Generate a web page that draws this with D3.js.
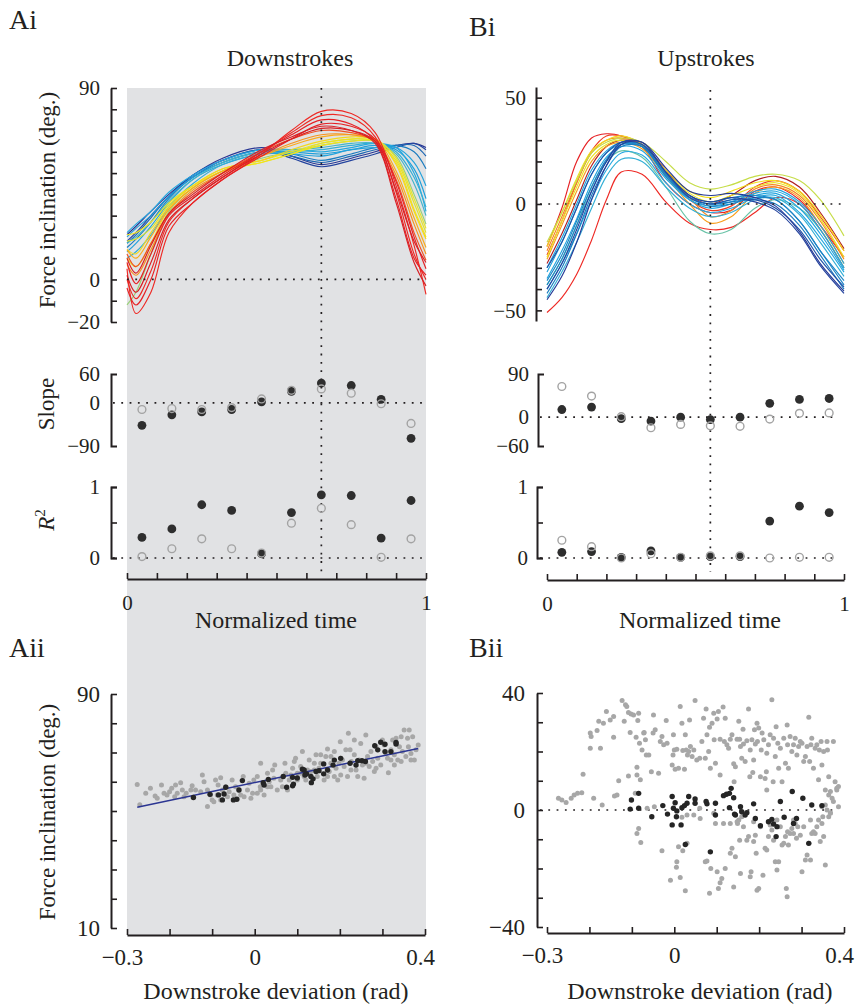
<!DOCTYPE html>
<html><head><meta charset="utf-8">
<script src="https://cdn.jsdelivr.net/npm/d3@7"></script>
<style>
body{margin:0;background:#fff;}
svg text{font-family:"Liberation Serif","DejaVu Serif","Times New Roman",Times,serif;fill:#231f20;}
</style></head><body>
<svg id="fig" width="856" height="1007"></svg>
<script>
// ---------- DATA ----------
const jetStops = ["#2a2f8f","#1f4ea5","#1b75bb","#1c9ad6","#27aae1","#6cc4a4","#c4dc4a","#f2e61a","#fbb31a","#f47a20","#ed2024","#b01e23"];

// Downstrokes: knot times and curves (deg)
const downKnots = [0, 0.03, 0.08, 0.14, 0.22, 0.32, 0.45, 0.55, 0.65, 0.75, 0.83, 0.9, 0.96, 1];
const downColorIdx = [0.02,0.06,0.15,0.2,0.3,0.32,0.35,0.38,0.4,0.5,0.6,0.62,0.64,0.66,0.74,0.78,0.86,0.9,0.9,0.92,0.92,0.94,0.94];
const downCurves = [
  [21,25,32,40,49,57,62,58,54,57,60,63,64,62],
  [18,22,30,39,49,56,61,57,53,56,59,62,64,61],
  [17,21,29,39,48,56,61,58,55,58,61,63,63,58],
  [15,19,27,38,48,55,60,59,56,59,62,63,60,52],
  [20,24,30,39,48,55,60,60,59,61,63,61,52,38],
  [13,17,25,36,47,54,59,59,58,61,62,62,55,44],
  [22,26,32,41,49,56,61,61,60,62,64,62,50,32],
  [10,13,21,34,45,54,59,60,61,63,64,60,48,34],
  [17,20,27,37,47,55,60,61,62,64,64,59,45,30],
  [-12,-6,12,32,43,51,57,60,63,65,65,58,40,26],
  [18,19,24,35,44,52,56,60,64,66,65,56,36,22],
  [10,6,17,33,43,51,55,59,64,66,66,57,38,24],
  [21,22,27,36,44,51,55,59,63,65,65,55,33,20],
  [14,12,22,34,44,52,56,61,65,67,66,54,32,19],
  [14,10,20,33,43,51,58,63,67,68,66,51,29,15],
  [7,2,14,31,42,50,58,64,68,68,65,49,26,12],
  [12,6,17,31,41,50,60,66,70,69,65,47,22,9],
  [5,-16,-6,22,36,47,59,70,79,78,69,44,16,-7],
  [0,-9,4,27,38,48,60,69,77,76,67,41,12,0],
  [8,-2,12,30,39,49,60,68,75,73,65,38,10,2],
  [-4,-12,0,25,36,47,58,66,73,72,66,46,20,5],
  [10,3,16,31,40,50,61,67,72,70,64,36,8,-3],
  [2,-6,8,28,38,48,59,66,71,70,65,42,18,8]
];

// Upstrokes
const upKnots = [0, 0.05, 0.1, 0.15, 0.2, 0.25, 0.32, 0.4, 0.48, 0.55, 0.62, 0.7, 0.77, 0.85, 0.92, 1];
const upColorIdx = [1.0,0.92,0.9,0.88,0.8,0.76,0.65,0.62,0.55,0.45,0.38,0.36,0.34,0.33,0.33,0.22,0.22,0.2,0.1,0.06,0.03];
const upCurves = [
  [-28,-14,2,18,27,30,28,16,4,0,4,11,13,8,-4,-21],
  [-20,-2,20,31,33,32,27,10,0,-4,-3,6,8,2,-10,-25],
  [-51,-44,-33,-17,2,15,14,1,-9,-12,-11,-4,3,0,-12,-30],
  [-24,-8,10,25,32,32,28,14,2,-3,-1,8,11,6,-6,-22],
  [-22,-6,10,24,30,31,28,15,3,-6,-3,7,9,4,-8,-26],
  [-26,-10,6,20,27,29,26,13,0,-9,-6,5,8,3,-10,-28],
  [-20,-4,12,25,30,32,28,16,6,3,6,10,11,6,-5,-22],
  [-25,-8,8,22,28,30,27,15,5,1,4,8,10,5,-7,-25],
  [-18,-4,11,24,29,31,29,20,10,7,9,13,14,11,2,-15],
  [-38,-26,-10,8,20,25,22,8,-8,-14,-12,-2,2,-2,-12,-30],
  [-44,-32,-18,-2,13,21,20,8,-2,-6,-4,2,3,-5,-18,-34],
  [-40,-28,-14,2,16,24,23,10,0,-4,-2,3,4,-4,-16,-32],
  [-35,-22,-7,10,22,27,25,12,2,-1,1,5,6,0,-12,-30],
  [-32,-18,-2,14,24,28,27,14,3,0,2,6,7,1,-10,-28],
  [-30,-16,0,16,25,29,27,13,2,-2,0,4,5,-2,-14,-31],
  [-36,-24,-8,8,21,28,27,13,3,-1,0,3,2,-8,-22,-38],
  [-38,-26,-10,6,20,28,28,15,4,1,3,4,2,-8,-22,-36],
  [-42,-30,-14,4,18,27,27,14,3,0,1,2,0,-10,-24,-40],
  [-30,-18,-2,14,24,29,28,15,3,0,2,2,-2,-12,-26,-39],
  [-40,-28,-12,6,20,29,29,15,4,1,3,1,-3,-14,-29,-42],
  [-45,-34,-18,2,18,28,29,17,6,4,5,3,-1,-13,-28,-41]
];

const sampleTimes = [0.05,0.15,0.25,0.35,0.45,0.55,0.65,0.75,0.85,0.95];
const downMarkTime = 0.65, upMarkTime = 0.55;
const downSlopeFilled = [-47,-25,-19,-14,2,24,41,36,7,-74];
const downSlopeOpen   = [-14,-12,-14,-10,8,26,29,20,-2,-43];
const downR2Filled = [0.29,0.41,0.75,0.67,0.06,0.64,0.89,0.88,0.28,0.81];
const downR2Open   = [0.02,0.13,0.27,0.13,0.07,0.49,0.70,0.47,0.01,0.27];
const upSlopeFilled = [16,21,-3,-8,0,-5,0,29,37,39];
const upSlopeOpen   = [64,44,1,-22,-15,-18,-19,-4,8,9];
const upR2Filled = [0.08,0.09,0.01,0.10,0.01,0.02,0.02,0.52,0.73,0.64];
const upR2Open   = [0.25,0.16,0.0,0.06,0.01,0.03,0.03,0.0,0.01,0.01];

// Aii scatter: [deviation (rad), force inclination (deg)]
const aiiGray = [[-0.276,59.1],[-0.256,56.1],[-0.245,57.8],[-0.234,55.1],[-0.219,58.9],[-0.213,56.1],[-0.2,56.6],[-0.195,57.8],[-0.186,58.9],[-0.174,59.7],[-0.188,54.9],[-0.17,57.2],[-0.161,56.1],[-0.147,58.6],[-0.139,57.2],[-0.123,62.3],[-0.119,60],[-0.111,57.2],[-0.111,51.5],[-0.104,55.5],[-0.092,60.6],[-0.086,58.9],[-0.08,61.4],[-0.076,57.2],[-0.068,58.3],[-0.06,56.6],[-0.053,60.6],[-0.045,58.3],[-0.033,55.5],[-0.027,61.8],[-0.017,57.2],[-0.013,59.5],[-0.009,54.4],[-0.002,60.6],[0.006,61.8],[0.013,58.3],[0.014,66.3],[0.022,55.5],[0.03,62.9],[0.034,60],[0.042,64],[0.045,61.2],[0.047,65.7],[0.053,57.2],[0.061,60.6],[0.071,66.3],[0.073,62.9],[0.081,60.6],[0.089,64.6],[0.093,66.9],[0.096,68],[0.1,62.9],[0.108,65.2],[0.112,70.3],[0.116,61.8],[0.12,60.6],[0.128,67.4],[0.132,63.5],[0.14,66.3],[0.144,69.2],[0.147,61.8],[0.151,64.6],[0.155,66.3],[0.163,60.6],[0.167,68.6],[0.171,71.2],[0.175,63.5],[0.179,66.3],[0.187,61.8],[0.191,64.6],[0.195,60.6],[0.198,66.3],[0.201,73.7],[0.202,68],[0.21,65.2],[0.218,61.8],[0.22,76.6],[0.224,70.9],[0.227,66.9],[0.234,69.2],[0.238,64],[0.242,61.8],[0.249,73.1],[0.253,65.7],[0.257,61.2],[0.261,76],[0.265,68.6],[0.269,65.2],[0.273,70.3],[0.277,66.9],[0.281,63.5],[0.285,72],[0.289,68],[0.296,65.7],[0.3,74.3],[0.304,72.6],[0.308,69.7],[0.312,68],[0.314,63.1],[0.32,70.9],[0.324,74.3],[0.328,69.2],[0.332,74.9],[0.336,67.4],[0.34,72],[0.344,75.4],[0.347,70.3],[0.351,77.7],[0.355,68.6],[0.359,74.9],[0.361,72],[0.363,77.7],[0.367,69.7],[0.371,75.4],[0.375,67.4],[0.379,70.9],[0.384,72.6],[0.206,67.4],[0.214,70.9],[0.234,74.3],[0.187,70.3],[0.179,68.6],[0.155,69.2],[0.14,64],[0.108,62.9],[0.085,62.3],[0.065,58.3],[0.038,58.3],[0.006,56.1],[-0.005,56.1],[-0.037,57.2],[-0.049,55.5],[-0.088,55.5],[-0.1,53.8],[-0.127,56.6],[-0.15,57.2],[-0.166,54.9],[-0.182,56.1],[-0.206,55.5],[-0.229,54.4],[-0.27,52.1],[0.328,65.7],[0.344,66.9],[0.367,67.4],[0.32,67.4],[0.285,64.6],[0.261,66.3],[0.245,67.4],[0.226,64],[0.202,62.3],[0.171,61.8],[0.124,64],[0.1,60.6],[0.077,57.2],[0.03,58.3],[0.014,57.2],[-0.025,54.9],[-0.064,54.9],[-0.08,53.8],[-0.096,53.2]];
const aiiDark = [[-0.144,54.6],[-0.105,55.7],[-0.085,55.5],[-0.076,53.8],[-0.072,55.8],[-0.068,58.1],[-0.05,53.8],[-0.042,54],[-0.037,57.2],[-0.029,60.4],[0.02,59.7],[0.022,58.9],[0.032,60.8],[0.067,61.8],[0.075,58.1],[0.089,58.6],[0.089,61.5],[0.1,61.3],[0.112,64.3],[0.118,62.3],[0.122,62.7],[0.133,59.7],[0.137,61],[0.144,63.5],[0.151,63.8],[0.162,66.1],[0.162,62.7],[0.171,64],[0.187,67.4],[0.202,68],[0.224,66.3],[0.238,65.7],[0.242,67.2],[0.252,67.2],[0.26,66.9],[0.282,72.3],[0.289,70.9],[0.296,73.5],[0.306,72.8],[0.306,70.3],[0.32,70.3],[0.332,73.4],[0.332,72.9],[0.116,64],[0.184,65.7],[0.132,61.8],[0.091,59.2]];
const aiiFit = [[-0.276,51.3],[0.384,71.4]];

// Bii scatter
const biiGray = [[-0.273,4.0],[-0.265,3.4],[-0.255,2.6],[-0.243,4.0],[-0.236,5.1],[-0.228,5.7],[-0.218,5.9],[-0.215,12.2],[-0.198,26.3],[-0.196,25.1],[-0.198,21.1],[-0.19,4.0],[-0.182,27.2],[-0.178,30.3],[-0.174,21.1],[-0.17,1.7],[-0.167,29.7],[-0.16,33.7],[-0.151,30.8],[-0.143,32.0],[-0.143,24.9],[-0.141,4.8],[-0.135,5.1],[-0.131,10.0],[-0.123,37.4],[-0.118,30.3],[-0.115,36.0],[-0.112,35.4],[-0.108,33.3],[-0.108,11.6],[-0.104,26.5],[-0.102,32.8],[-0.096,32.5],[-0.092,5.7],[-0.09,24.9],[-0.088,12.0],[-0.086,30.6],[-0.084,33.1],[-0.088,14.6],[-0.082,22.8],[-0.08,10.3],[-0.076,20.5],[-0.072,26.3],[-0.068,24.0],[-0.064,0.6],[-0.071,26.5],[-0.066,18.8],[-0.06,18.8],[-0.054,13.1],[-0.05,26.3],[-0.049,32.5],[-0.045,27.4],[-0.037,12.6],[-0.033,23.4],[-0.029,25.1],[-0.025,22.3],[-0.019,30.6],[-0.017,22.8],[-0.005,15.4],[-0.003,18.8],[-0.002,25.7],[0,20.5],[0.002,13.9],[0.006,20.8],[0.01,14.3],[0.014,35.4],[0.018,29.7],[0.02,20.3],[0.024,13.9],[0.026,25.7],[0.028,20.5],[0.031,18.8],[0.034,20.0],[0.036,30.8],[0.038,21.7],[0.042,18.3],[0.046,20.5],[0.049,37.4],[0.053,17.1],[0.06,17.7],[0.065,23.4],[0.069,31.4],[0.073,17.7],[0.075,34.5],[0.077,25.7],[0.081,20.0],[0.083,28.3],[0.085,14.3],[0.089,29.7],[0.093,33.1],[0.094,24.0],[0.097,16.0],[0.101,31.1],[0.104,33.7],[0.108,24.2],[0.108,12.0],[0.115,35.2],[0.118,23.4],[0.12,31.4],[0.124,22.3],[0.128,21.1],[0.132,24.2],[0.136,25.7],[0.14,15.8],[0.141,9.7],[0.144,14.8],[0.148,24.2],[0.152,30.3],[0.154,24.2],[0.156,21.7],[0.159,17.7],[0.162,27.6],[0.163,22.6],[0.167,16.6],[0.171,23.7],[0.175,34.5],[0.178,11.4],[0.179,20.5],[0.183,24.0],[0.185,12.8],[0.187,17.1],[0.189,27.4],[0.191,22.6],[0.195,29.7],[0.196,23.4],[0.199,28.0],[0.203,11.4],[0.205,20.5],[0.207,26.3],[0.211,24.0],[0.214,10.8],[0.217,13.1],[0.218,19.4],[0.218,6.8],[0.222,22.3],[0.226,25.7],[0.23,37.7],[0.233,9.7],[0.234,24.5],[0.238,18.3],[0.24,28.5],[0.244,22.8],[0.246,14.3],[0.25,21.1],[0.254,9.7],[0.258,24.5],[0.262,16.0],[0.266,29.1],[0.267,22.3],[0.269,14.3],[0.273,25.1],[0.277,20.0],[0.281,22.3],[0.285,24.5],[0.289,18.8],[0.293,21.7],[0.297,23.4],[0.301,22.8],[0.305,16.6],[0.309,18.3],[0.313,21.7],[0.317,31.7],[0.319,16.6],[0.322,22.3],[0.324,24.5],[0.328,14.3],[0.332,21.1],[0.336,22.3],[0.34,10.3],[0.342,20.5],[0.346,23.4],[0.348,15.4],[0.352,20.0],[0.356,6.8],[0.36,23.4],[0.361,20.5],[0.364,11.4],[0.368,6.3],[0.372,4.0],[0.375,23.4],[0.379,9.7],[0.383,6.8],[0.387,8.0],[0.364,5.1],[0.356,1.7],[0.348,1.1],[0.368,-0.9],
[-0.088,-8.0],[-0.084,-6.3],[-0.079,-11.1],[-0.047,1.1],[-0.029,-13.9],[-0.009,-24.0],[0.005,-19.6],[0.006,-17.7],[0.01,-12.6],[0.014,-23.1],[0.018,-2.5],[0.02,-13.9],[0.026,-27.6],[0.03,-11.4],[0.046,-1.7],[0.06,0.6],[0.073,-17.7],[0.077,-17.4],[0.083,-28.5],[0.086,-20.0],[0.093,-1.1],[0.097,-4.6],[0.101,-21.1],[0.104,-26.8],[0.108,-24.9],[0.112,-23.4],[0.116,-4.6],[0.12,-20.0],[0.132,-14.8],[0.136,-13.1],[0.14,-26.3],[0.144,-16.0],[0.148,-4.0],[0.149,-4.6],[0.152,-3.4],[0.154,-10.3],[0.156,-21.7],[0.159,-2.3],[0.163,-5.7],[0.171,-10.3],[0.175,-9.1],[0.179,-22.8],[0.181,-21.1],[0.187,-10.8],[0.191,-8.6],[0.193,-14.8],[0.195,-27.4],[0.199,-26.8],[0.203,-5.7],[0.209,-22.3],[0.214,-13.1],[0.218,-13.7],[0.222,-9.1],[0.226,-5.1],[0.23,-6.8],[0.234,-10.3],[0.238,-17.7],[0.242,-20.5],[0.246,-17.7],[0.25,-5.7],[0.254,-12.0],[0.258,-11.4],[0.262,-9.1],[0.264,-26.8],[0.266,-29.7],[0.267,-7.4],[0.269,-12.0],[0.273,-8.0],[0.277,-6.3],[0.281,-8.0],[0.285,-4.6],[0.288,-9.7],[0.291,-5.7],[0.297,-8.6],[0.301,-21.1],[0.305,-5.7],[0.309,-17.1],[0.313,-15.4],[0.317,-11.4],[0.321,-17.1],[0.324,-8.0],[0.328,-7.4],[0.332,-8.0],[0.336,-5.7],[0.34,-3.4],[0.344,-10.8],[0.348,-4.6],[0.35,-2.3],[0.352,-9.1],[0.356,-18.8],[0.36,0],[0.364,-2.3],[0.368,-1.1],[0.375,2.9],[0.383,7.4],[0.387,1.1],[0.061,-2.9],[0.03,-1.7],[0.132,-4.6],[0.187,-4.0],[0.281,-3.4],[0.242,-3.4],[0.321,-3.4]];
const biiDark = [[-0.101,3.4],[-0.104,0.3],[-0.084,5.7],[-0.084,0.6],[-0.053,-2.3],[-0.027,1.5],[-0.016,-1.4],[-0.005,4.6],[-0.005,-5.1],[-0.002,0.6],[0.002,2.5],[0.005,-2.3],[0.006,-0.3],[0.016,-5.1],[0.018,0.8],[0.026,-11.8],[0.024,1.5],[0.03,2.3],[0.034,4.6],[0.049,3.8],[0.049,2.3],[0.075,2.9],[0.077,2.1],[0.085,-14.3],[0.097,2.3],[0.097,-1.7],[0.116,4.9],[0.123,5.4],[0.13,5.7],[0.134,7.4],[0.14,4.2],[0.13,0.8],[0.144,-1.7],[0.156,1.1],[0.159,-0.6],[0.171,-0.9],[0.187,2.1],[0.191,-2.9],[0.203,-5.4],[0.222,-4.0],[0.23,-3.2],[0.234,-4.8],[0.24,-9.1],[0.242,-5.7],[0.25,2.9],[0.259,-2.5],[0.278,6.3],[0.281,-4.6],[0.288,-2.9],[0.303,4.0],[0.317,-11.4],[0.324,1.7],[0.348,1.5],[0.142,-1.4],[0.167,-1.7]];

// ticks
const timeTicks = [0,0.1,0.2,0.3,0.4,0.5,0.6,0.7,0.8,0.9,1];
const timeLabels = ["0","","","","","","","","","","1"];
const aTopTicks = [-20,-10,0,10,20,30,40,50,60,70,80,90];
const aTopLabels = ["−20","","0","","","","","","","","","90"];
const bTopTicks = [-50,-40,-30,-20,-10,0,10,20,30,40,50];
const bTopLabels = ["−50","","","","","0","","","","","50"];
const aSlopeTicks = [-90,0,60], aSlopeLabels = ["−90","0","60"];
const bSlopeTicks = [-60,0,90], bSlopeLabels = ["−60","0","90"];
const r2Ticks = [0,0.5,1], r2Labels = ["0","","1"];
const devTicks = [-0.3,-0.2,-0.1,0,0.1,0.2,0.3,0.4];
const devLabels = ["−0.3","","","0","","","","0.4"];
const aiiTicks = [10,20,30,40,50,60,70,80,90];
const aiiLabels = ["10","","","","","","","","90"];
const biiTicks = [-40,-30,-20,-10,0,10,20,30,40];
const biiLabels = ["−40","","","","0","","","","40"];

// ---------- DRAW ----------
const SERIF = "'Liberation Serif','DejaVu Serif','Times New Roman',Times,serif";
const fig = d3.select("#fig");
const ink = "#231f20";
const jet = d3.scaleLinear().domain(jetStops.map((d,i)=>i/(jetStops.length-1))).range(jetStops);

const xA = d3.scaleLinear([0,1],[127,426]);
const xB = d3.scaleLinear([0,1],[547,844]);
const yAtop = d3.scaleLinear([-20,90],[322,88]);
const yBtop = d3.scaleLinear([-55,55],[321,87]);
const ySlopeA = d3.scaleLinear([-90,60],[446,374]);
const ySlopeB = d3.scaleLinear([-60,90],[446,374]);
const yR2 = d3.scaleLinear([0,1],[558,487]);
const xDevA = d3.scaleLinear([-0.3,0.4],[127,425]);
const yAii = d3.scaleLinear([10,90],[928,694]);
const xDevB = d3.scaleLinear([-0.3,0.4],[547,844]);
const yBii = d3.scaleLinear([-40,40],[927,693]);

// gray background
fig.append("rect").attr("x",xA(0)).attr("y",88).attr("width",xA(1)-xA(0)).attr("height",848).attr("fill","#e1e2e4");

function styleAxis(g, fs){
  g.attr("font-family",SERIF).attr("font-size",fs);
  g.select(".domain").attr("stroke",ink).attr("stroke-width",2);
  g.selectAll(".tick line").attr("stroke",ink).attr("stroke-width",1.6);
  g.selectAll(".tick text").attr("fill",ink).attr("font-family",SERIF);
}
function leftAxis(scale, x, ticks, labels, o){
  const ax = d3.axisLeft(scale).tickValues(ticks).tickFormat((d,i)=>labels[i])
    .tickSizeInner(o.inner).tickSizeOuter(o.outer).tickPadding(o.pad);
  const g = fig.append("g").attr("transform",`translate(${x},0)`).call(ax);
  styleAxis(g, o.fs);
}
function bottomAxis(scale, y, ticks, labels, o){
  const ax = d3.axisBottom(scale).tickValues(ticks).tickFormat((d,i)=>labels[i])
    .tickSizeInner(-6).tickSizeOuter(0).tickPadding(o.pad);
  const g = fig.append("g").attr("transform",`translate(0,${y})`).call(ax);
  styleAxis(g, o.fs);
  if(o.dx) g.selectAll(".tick text").attr("dx",(d,i)=>o.dx[i]);
}
function dotted(x1,y1,x2,y2){
  fig.append("line").attr("x1",x1).attr("y1",y1).attr("x2",x2).attr("y2",y2)
    .attr("stroke",ink).attr("stroke-width",1.7).attr("stroke-dasharray","1.8,6.5");
}
function text(str, x, y, fs, opt={}){
  const t = fig.append("text").attr("x",x).attr("y",y).attr("font-size",fs)
    .attr("text-anchor",opt.anchor||"middle")
    .attr("font-family", opt.sans ? "'Liberation Sans',Arial,sans-serif" : SERIF)
    .attr("fill", ink).text(str);
  if(opt.rot) t.attr("transform",`rotate(-90,${x},${y})`);
  return t;
}
function curves(knots, data, colors, x, y){
  const line = d3.line().x((d,i)=>x(knots[i])).y(d=>y(d)).curve(d3.curveCatmullRom.alpha(0.5));
  fig.append("g").selectAll("path").data(data).join("path")
    .attr("d",line).attr("fill","none").attr("stroke",(d,i)=>jet(colors[i])).attr("stroke-width",1.15);
}
function markers(x, y, filled, open){
  const g = fig.append("g");
  g.selectAll("circle.f").data(filled).join("circle").attr("class","f")
    .attr("cx",(d,i)=>x(sampleTimes[i])).attr("cy",d=>y(d)).attr("r",4.4).attr("fill","#2e2e2e");
  g.selectAll("circle.o").data(open).join("circle").attr("class","o")
    .attr("cx",(d,i)=>x(sampleTimes[i])).attr("cy",d=>y(d)).attr("r",3.9)
    .attr("fill","none").attr("stroke","#a3a3a3").attr("stroke-width",1.4);
}
function scatter(x, y, gray, dark, fit){
  const g = fig.append("g");
  g.selectAll("circle.g").data(gray).join("circle").attr("class","g")
    .attr("cx",d=>x(d[0])).attr("cy",d=>y(d[1])).attr("r",2.5).attr("fill","#a7a7a7");
  if(fit) g.append("path").attr("d",d3.line().x(d=>x(d[0])).y(d=>y(d[1]))(fit))
    .attr("stroke","#2b3592").attr("stroke-width",1.5).attr("fill","none");
  g.selectAll("circle.d").data(dark).join("circle").attr("class","d")
    .attr("cx",d=>x(d[0])).attr("cy",d=>y(d[1])).attr("r",2.7).attr("fill","#252525");
}
const devDx = [-5,0,0,0,0,0,0,-5];

// ---- Ai ----
curves(downKnots, downCurves, downColorIdx, xA, yAtop);
dotted(xA(0), yAtop(0), xA(1), yAtop(0));
dotted(xA(downMarkTime), 88, xA(downMarkTime), 572);
leftAxis(yAtop, 111, aTopTicks, aTopLabels, {inner:-6, outer:0, pad:11, fs:21});
dotted(113, ySlopeA(0), xA(1), ySlopeA(0));
leftAxis(ySlopeA, 111, aSlopeTicks, aSlopeLabels, {inner:0, outer:-6, pad:11, fs:21});
markers(xA, ySlopeA, downSlopeFilled, downSlopeOpen);
dotted(113, yR2(0), xA(1), yR2(0));
leftAxis(yR2, 111, r2Ticks, r2Labels, {inner:-6, outer:-6, pad:11, fs:21});
markers(xA, yR2, downR2Filled, downR2Open);
bottomAxis(xA, 579, timeTicks, timeLabels, {pad:16, fs:21});

// ---- Bi ----
curves(upKnots, upCurves, upColorIdx, xB, yBtop);
dotted(540, yBtop(0), xB(1), yBtop(0));
dotted(xB(upMarkTime), 90, xB(upMarkTime), 572);
leftAxis(yBtop, 536, bTopTicks, bTopLabels, {inner:-6, outer:0, pad:10, fs:21});
dotted(540, ySlopeB(0), 834, ySlopeB(0));
leftAxis(ySlopeB, 538, bSlopeTicks, bSlopeLabels, {inner:0, outer:-6, pad:9, fs:21});
markers(xB, ySlopeB, upSlopeFilled, upSlopeOpen);
dotted(540, yR2(0), 836, yR2(0));
leftAxis(yR2, 537, r2Ticks, r2Labels, {inner:-6, outer:-6, pad:9, fs:21});
markers(xB, yR2, upR2Filled, upR2Open);
bottomAxis(xB, 580, timeTicks, timeLabels, {pad:16, fs:21});

// ---- Aii ----
scatter(xDevA, yAii, aiiGray, aiiDark, aiiFit);
leftAxis(yAii, 111, aiiTicks, aiiLabels, {inner:-6, outer:0, pad:11, fs:23});
bottomAxis(xDevA, 935, devTicks, devLabels, {pad:14, fs:23, dx:devDx});

// ---- Bii ----
dotted(540, yBii(0), 838, yBii(0));
scatter(xDevB, yBii, biiGray, biiDark, null);
leftAxis(yBii, 537, biiTicks, biiLabels, {inner:-6, outer:0, pad:12, fs:23});
bottomAxis(xDevB, 933, devTicks, devLabels, {pad:14, fs:23, dx:devDx});

// ---- Text ----
text("Ai", 9, 29, 28, {anchor:"start", sans:true});
text("Bi", 469, 36, 28, {anchor:"start", sans:true});
text("Aii", 9, 657, 28, {anchor:"start", sans:true});
text("Bii", 469, 657, 28, {anchor:"start", sans:true});
text("Downstrokes", 290, 66, 24);
text("Upstrokes", 706, 66, 24);
text("Force inclination (deg.)", 55, 200, 23, {rot:true});
text("Slope", 54, 404, 23, {rot:true});
const r2t = text("", 54, 520, 23, {rot:true});
r2t.append("tspan").attr("font-style","italic").text("R");
r2t.append("tspan").attr("dy",-9).attr("font-size",15).text("2");
text("Normalized time", 276, 628, 24);
text("Normalized time", 700, 628, 24);
text("Force inclination (deg.)", 55, 812, 23, {rot:true});
text("Downstroke deviation (rad)", 276, 999, 24);
text("Downstroke deviation (rad)", 700, 999, 24);
</script></body></html>
